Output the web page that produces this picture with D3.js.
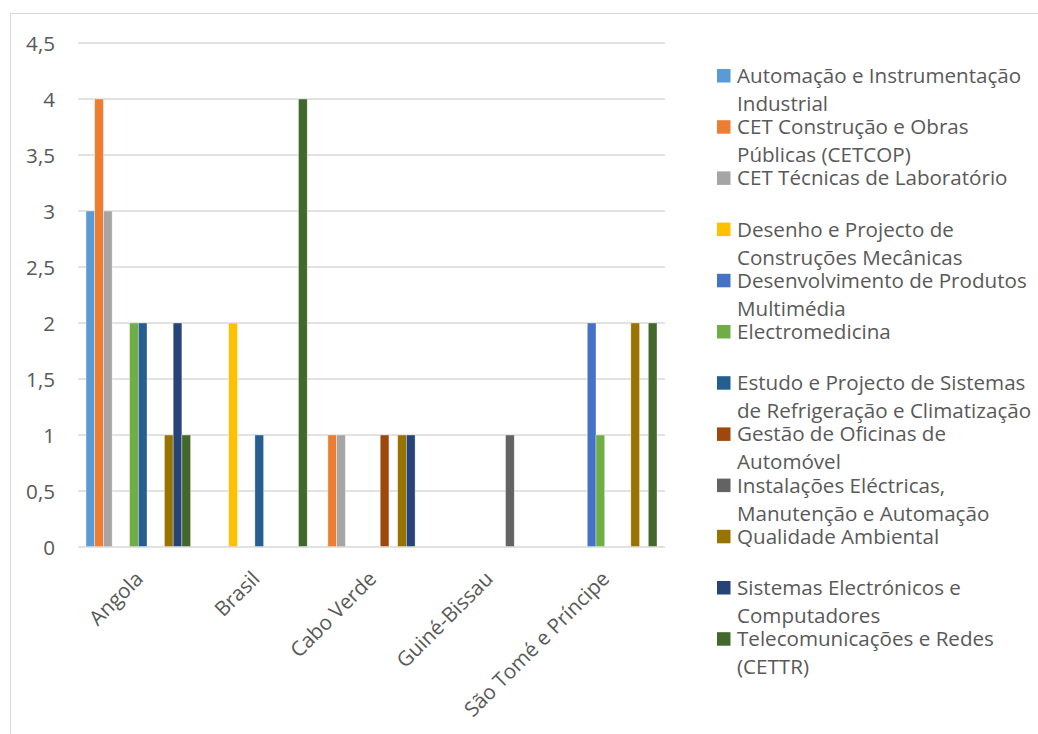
<!DOCTYPE html>
<html>
<head>
<meta charset="utf-8">
<script src="https://cdn.jsdelivr.net/npm/d3@7"></script>
<style>
  html, body { margin: 0; padding: 0; background: #fff; }
  svg { display: block; }
  text { font-family: "Open Sans", "Liberation Sans", sans-serif; fill: #595959; }
</style>
</head>
<body>
<svg id="chart" width="1038" height="734"></svg>
<script>
// Countries on the x axis
const countries = ["Angola", "Brasil", "Cabo Verde", "Guiné-Bissau", "São Tomé e Príncipe"];

// Courses (one series each)
const courses = [
  "Automação e Instrumentação Industrial",
  "CET Construção e Obras Públicas (CETCOP)",
  "CET Técnicas de Laboratório",
  "Desenho e Projecto de Construções Mecânicas",
  "Desenvolvimento de Produtos Multimédia",
  "Electromedicina",
  "Estudo e Projecto de Sistemas de Refrigeração e Climatização",
  "Gestão de Oficinas de Automóvel",
  "Instalações Eléctricas, Manutenção e Automação",
  "Qualidade Ambiental",
  "Sistemas Electrónicos e Computadores",
  "Telecomunicações e Redes (CETTR)"
];

const courseColors = [
  "#5B9BD5", "#ED7D31", "#A5A5A5", "#FFC000", "#4472C4", "#70AD47",
  "#255E91", "#9E480E", "#636363", "#997300", "#264478", "#43682B"
];

// Values per course, in country order
const automacao      = [3, 0, 0, 0, 0];
const cetcop         = [4, 0, 1, 0, 0];
const cetLaboratorio = [3, 0, 1, 0, 0];
const desenho        = [0, 2, 0, 0, 0];
const multimedia     = [0, 0, 0, 0, 2];
const electromed     = [2, 0, 0, 0, 1];
const refrigeracao   = [2, 1, 0, 0, 0];
const oficinas       = [0, 0, 1, 0, 0];
const instalacoes    = [0, 0, 0, 1, 0];
const qualidade      = [1, 0, 1, 0, 2];
const electronicos   = [2, 0, 1, 0, 0];
const telecom        = [1, 4, 0, 0, 2];

const seriesValues = [automacao, cetcop, cetLaboratorio, desenho, multimedia, electromed,
  refrigeracao, oficinas, instalacoes, qualidade, electronicos, telecom];

const yTicks = [0, 0.5, 1, 1.5, 2, 2.5, 3, 3.5, 4, 4.5];
const yTickLabels = ["0", "0,5", "1", "1,5", "2", "2,5", "3", "3,5", "4", "4,5"];

const svg = d3.select("#chart");
const fontSize = 20.6;

// outer chart frame
svg.append("rect")
  .attr("x", 10.5).attr("y", 13.5)
  .attr("width", 1040).attr("height", 740)
  .attr("fill", "#fff").attr("stroke", "#d9d9d9").attr("stroke-width", 1);

const plot = { left: 80, right: 663, top: 43, bottom: 547 };

const x0 = d3.scaleBand().domain(countries).range([plot.left, plot.right]).padding(0);
const x1 = d3.scaleBand().domain(d3.range(courses.length))
  .range([6, x0.bandwidth() - 6]).padding(0);
const y = d3.scaleLinear().domain([0, 4.5]).range([plot.bottom, plot.top]);

// horizontal gridlines
svg.append("g").selectAll("line")
  .data(yTicks.filter(t => t > 0))
  .join("line")
  .attr("x1", plot.left - 2).attr("x2", plot.right + 2)
  .attr("y1", d => y(d)).attr("y2", d => y(d))
  .attr("stroke", "#d9d9d9").attr("stroke-width", 1.3);

// y axis labels
const yAxis = d3.axisLeft(y).tickValues(yTicks)
  .tickFormat((d, i) => yTickLabels[i]).tickSize(0).tickPadding(0);
const yg = svg.append("g").attr("transform", `translate(55,0)`).call(yAxis);
yg.select(".domain").remove();
yg.selectAll("text")
  .attr("font-size", fontSize)
  .attr("font-family", "'Open Sans', sans-serif")
  .attr("fill", "#595959")
  .attr("dy", "0.35em");

// bars
const groups = svg.append("g").selectAll("g")
  .data(countries)
  .join("g")
  .attr("transform", d => `translate(${x0(d)},0)`);

groups.selectAll("rect")
  .data((c, ci) => seriesValues.map((vals, si) => ({ si, v: vals[ci] })).filter(d => d.v > 0))
  .join("rect")
  .attr("x", d => x1(d.si))
  .attr("width", x1.bandwidth())
  .attr("y", d => y(d.v))
  .attr("height", d => y(0) - y(d.v))
  .attr("fill", d => courseColors[d.si])
  .attr("stroke", "#ffffff").attr("stroke-width", 0.6).attr("stroke-opacity", 0.6);

// baseline
svg.append("line")
  .attr("x1", plot.left - 2).attr("x2", plot.right + 2)
  .attr("y1", y(0)).attr("y2", y(0))
  .attr("stroke", "#d9d9d9").attr("stroke-width", 1.6);

// x axis labels, rotated
const xAxis = d3.axisBottom(x0).tickSize(0).tickPadding(0);
const xg = svg.append("g").attr("transform", `translate(0,${plot.bottom})`).call(xAxis);
xg.select(".domain").remove();
xg.selectAll("text")
  .attr("font-size", fontSize)
  .attr("font-family", "'Open Sans', sans-serif")
  .attr("fill", "#595959")
  .attr("text-anchor", "end")
  .attr("dy", "0.35em")
  .attr("transform", "translate(1,28) rotate(-45)");

// legend
const legend = svg.append("g").attr("transform", "translate(717,0)");
const entryStep = 51.2, lineStep = 28, firstBaseline = 83, maxLine = 305;

courses.forEach((name, i) => {
  const base = firstBaseline + i * entryStep;
  const g = legend.append("g");
  g.append("rect")
    .attr("x", 0).attr("y", base - 14)
    .attr("width", 13.5).attr("height", 13.5)
    .attr("fill", courseColors[i]);
  const t = g.append("text")
    .attr("x", 20).attr("y", base)
    .attr("font-size", fontSize);
  // word-wrap the label to the legend width
  const words = name.split(" ");
  let line = [], lineNo = 0;
  let tspan = t.append("tspan").attr("x", 20).attr("y", base);
  words.forEach(w => {
    line.push(w);
    tspan.text(line.join(" "));
    if (tspan.node().getComputedTextLength() > maxLine && line.length > 1) {
      line.pop();
      tspan.text(line.join(" "));
      line = [w];
      lineNo++;
      tspan = t.append("tspan").attr("x", 20).attr("y", base + lineNo * lineStep).text(w);
    }
  });
});
</script>
</body>
</html>
